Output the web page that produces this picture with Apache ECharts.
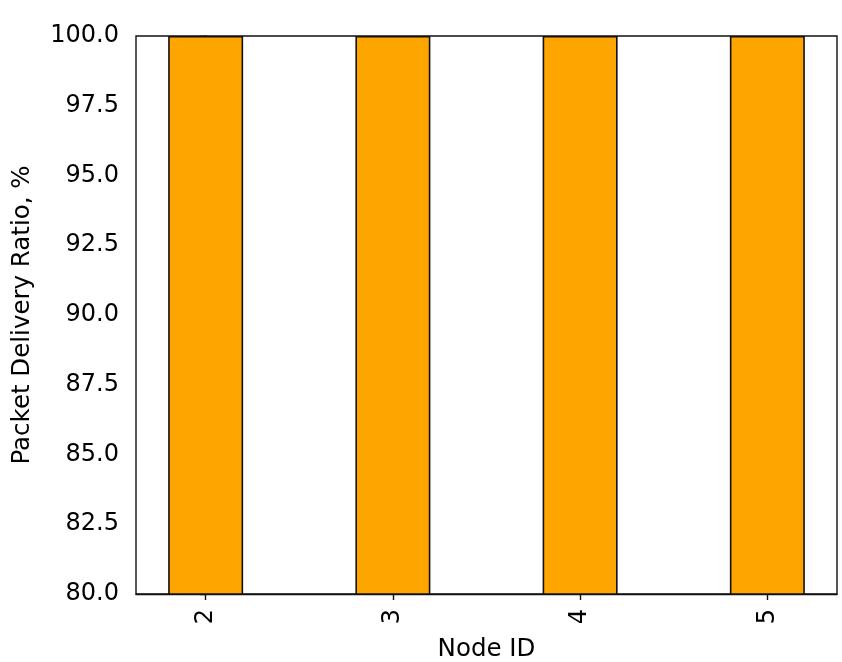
<!DOCTYPE html>
<html>
<head>
<meta charset="utf-8">
<script src="https://cdn.jsdelivr.net/npm/echarts@6/dist/echarts.min.js"></script>
<style>html,body{margin:0;padding:0;background:#fff}#c{width:842px;height:662px}</style>
</head>
<body>
<div id="c"></div>
<script>
var categories = ["2", "3", "4", "5"];
var pdrValues = [100, 100, 100, 100];
var yTicks = [80, 82.5, 85, 87.5, 90, 92.5, 95, 97.5, 100];

var positions = categories.map(function (c, i) { return i; });
var barData = pdrValues.map(function (v, i) { return [positions[i], v]; });

var chart = echarts.init(document.getElementById('c'), null, { renderer: 'canvas' });
var font = 'DejaVu Sans';
chart.setOption({
  animation: false,
  backgroundColor: '#fff',
  grid: { left: 136, right: 5, top: 36, bottom: 68, containLabel: false, outerBoundsMode: 'none', show: true, borderColor: '#111', borderWidth: 1.4, backgroundColor: 'transparent' },
  xAxis: {
    type: 'value',
    min: -0.372,
    max: 3.372,
    splitLine: { show: false },
    axisLine: { show: true, lineStyle: { color: '#111', width: 1.4 } },
    axisTick: { show: true, customValues: positions, length: 6, lineStyle: { color: '#111', width: 1.4 } },
    axisLabel: {
      customValues: positions,
      rotate: 90,
      color: '#000',
      fontFamily: font,
      fontSize: 24,
      margin: 15,
      formatter: function (v) { return categories[Math.round(v)]; }
    },
    name: 'Node ID',
    nameLocation: 'middle',
    nameGap: 43,
    nameTextStyle: { color: '#000', fontFamily: font, fontSize: 24.5 }
  },
  yAxis: {
    type: 'value',
    min: 80,
    max: 100,
    interval: 2.5,
    splitLine: { show: false },
    axisLine: { show: true, lineStyle: { color: '#111', width: 1.4 } },
    axisTick: { show: true, length: 6, lineStyle: { color: '#111', width: 1.4 } },
    axisLabel: {
      customValues: yTicks,
      color: '#000',
      fontFamily: font,
      fontSize: 24,
      margin: 17,
      formatter: function (v) { return v.toFixed(1); }
    },
    name: 'Packet Delivery Ratio, %',
    nameLocation: 'middle',
    nameGap: 101,
    nameTextStyle: { color: '#000', fontFamily: font, fontSize: 24.5 }
  },
  series: [{
    type: 'bar',
    data: barData,
    barWidth: 75,
    itemStyle: { color: '#FFA500', borderColor: '#111', borderWidth: 1.6 }
  }]
});
</script>
</body>
</html>
